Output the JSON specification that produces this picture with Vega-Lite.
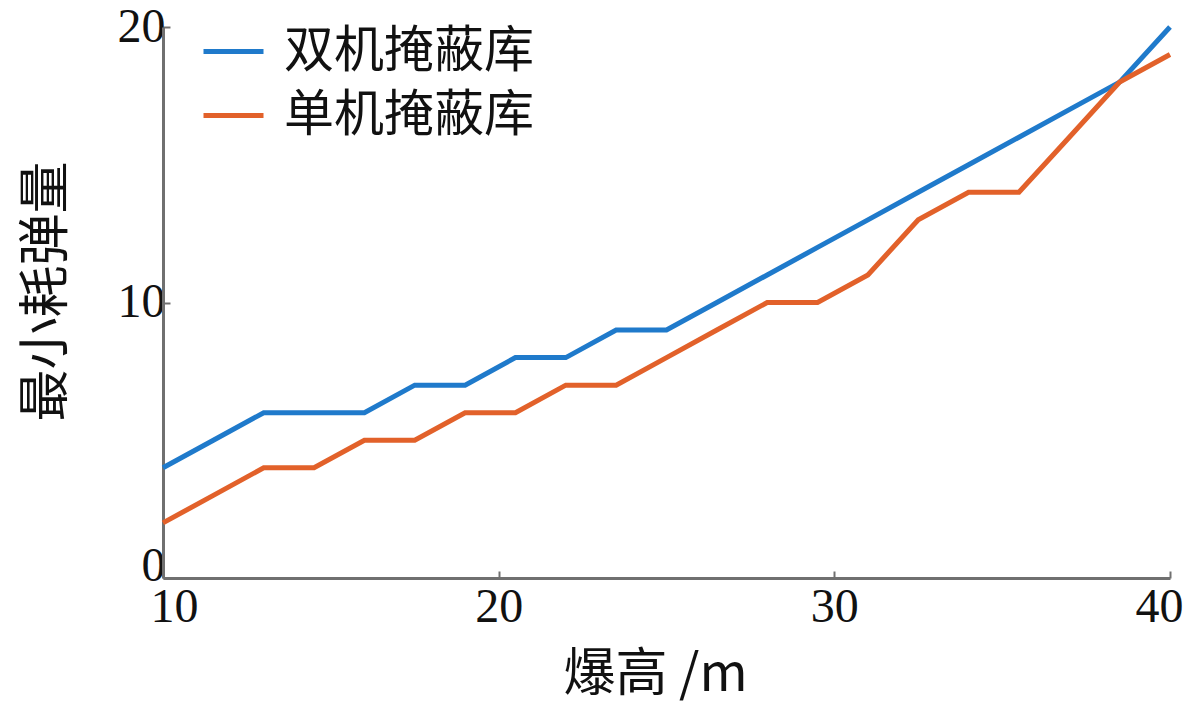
{
  "$schema": "https://vega.github.io/schema/vega-lite/v6.json",
  "width": 1007,
  "height": 551,
  "autosize": {"type": "none"},
  "padding": {"left": 163, "top": 27, "right": 30, "bottom": 135},
  "background": "white",
  "config": {
    "view": {"stroke": null},
    "font": "Liberation Serif"
  },
  "data": {
    "values": [
      {"h": 10, "n": 4, "s": "双机掩蔽库"},
      {"h": 11.5, "n": 5, "s": "双机掩蔽库"},
      {"h": 13, "n": 6, "s": "双机掩蔽库"},
      {"h": 14.5, "n": 6, "s": "双机掩蔽库"},
      {"h": 16, "n": 6, "s": "双机掩蔽库"},
      {"h": 17.5, "n": 7, "s": "双机掩蔽库"},
      {"h": 19, "n": 7, "s": "双机掩蔽库"},
      {"h": 20.5, "n": 8, "s": "双机掩蔽库"},
      {"h": 22, "n": 8, "s": "双机掩蔽库"},
      {"h": 23.5, "n": 9, "s": "双机掩蔽库"},
      {"h": 25, "n": 9, "s": "双机掩蔽库"},
      {"h": 26.5, "n": 10, "s": "双机掩蔽库"},
      {"h": 28, "n": 11, "s": "双机掩蔽库"},
      {"h": 29.5, "n": 12, "s": "双机掩蔽库"},
      {"h": 31, "n": 13, "s": "双机掩蔽库"},
      {"h": 32.5, "n": 14, "s": "双机掩蔽库"},
      {"h": 34, "n": 15, "s": "双机掩蔽库"},
      {"h": 35.5, "n": 16, "s": "双机掩蔽库"},
      {"h": 37, "n": 17, "s": "双机掩蔽库"},
      {"h": 38.5, "n": 18, "s": "双机掩蔽库"},
      {"h": 40, "n": 20, "s": "双机掩蔽库"},
      {"h": 10, "n": 2, "s": "单机掩蔽库"},
      {"h": 11.5, "n": 3, "s": "单机掩蔽库"},
      {"h": 13, "n": 4, "s": "单机掩蔽库"},
      {"h": 14.5, "n": 4, "s": "单机掩蔽库"},
      {"h": 16, "n": 5, "s": "单机掩蔽库"},
      {"h": 17.5, "n": 5, "s": "单机掩蔽库"},
      {"h": 19, "n": 6, "s": "单机掩蔽库"},
      {"h": 20.5, "n": 6, "s": "单机掩蔽库"},
      {"h": 22, "n": 7, "s": "单机掩蔽库"},
      {"h": 23.5, "n": 7, "s": "单机掩蔽库"},
      {"h": 25, "n": 8, "s": "单机掩蔽库"},
      {"h": 26.5, "n": 9, "s": "单机掩蔽库"},
      {"h": 28, "n": 10, "s": "单机掩蔽库"},
      {"h": 29.5, "n": 10, "s": "单机掩蔽库"},
      {"h": 31, "n": 11, "s": "单机掩蔽库"},
      {"h": 32.5, "n": 13, "s": "单机掩蔽库"},
      {"h": 34, "n": 14, "s": "单机掩蔽库"},
      {"h": 35.5, "n": 14, "s": "单机掩蔽库"},
      {"h": 37, "n": 16, "s": "单机掩蔽库"},
      {"h": 38.5, "n": 18, "s": "单机掩蔽库"},
      {"h": 40, "n": 19, "s": "单机掩蔽库"}
    ]
  },
  "mark": {"type": "line", "strokeWidth": 5},
  "encoding": {
    "x": {
      "field": "h",
      "type": "quantitative",
      "title": "爆高 /m",
      "scale": {"domain": [10, 40], "nice": false, "zero": false},
      "axis": {
        "values": [10, 20, 30, 40],
        "grid": false,
        "domainColor": "#707070",
        "domainWidth": 3,
        "tickColor": "#707070",
        "tickWidth": 2,
        "tickSize": -7,
        "labelFont": "Liberation Serif",
        "labelFontSize": 48,
        "labelColor": "#111111",
        "labelPadding": 12,
        "labelFlush": true,
        "labelFlushOffset": 13,
        "titleFont": "Noto Sans CJK SC",
        "titleFontSize": 52,
        "titleFontWeight": "normal",
        "titleColor": "#111111",
        "titlePadding": 18,
        "titleX": 492
      }
    },
    "y": {
      "field": "n",
      "type": "quantitative",
      "title": "最小耗弹量",
      "scale": {"domain": [0, 20], "nice": false},
      "axis": {
        "values": [0, 10, 20],
        "grid": false,
        "domainColor": "#707070",
        "domainWidth": 3,
        "tickColor": "#707070",
        "tickWidth": 2,
        "tickSize": -7,
        "labelFont": "Liberation Serif",
        "labelFontSize": 48,
        "labelColor": "#111111",
        "labelPadding": 5,
        "labelFlush": false,
        "labelOffset": {"condition": {"test": "datum.value == 0", "value": -12}, "value": 0},
        "titleFont": "Noto Sans CJK SC",
        "titleFontSize": 52,
        "titleFontWeight": "normal",
        "titleColor": "#111111",
        "titlePadding": 44,
        "titleY": 264
      }
    },
    "color": {
      "field": "s",
      "type": "nominal",
      "scale": {
        "domain": ["双机掩蔽库", "单机掩蔽库"],
        "range": ["#1f7acb", "#e2612a"]
      },
      "legend": {
        "title": null,
        "orient": "none",
        "legendX": 38,
        "legendY": -8,
        "symbolType": "stroke",
        "symbolSize": 3600,
        "symbolStrokeWidth": 5,
        "labelFont": "Noto Sans CJK SC",
        "labelFontSize": 50,
        "labelColor": "#111111",
        "labelOffset": 18,
        "rowPadding": 6,
        "labelLimit": 500
      }
    }
  }
}
